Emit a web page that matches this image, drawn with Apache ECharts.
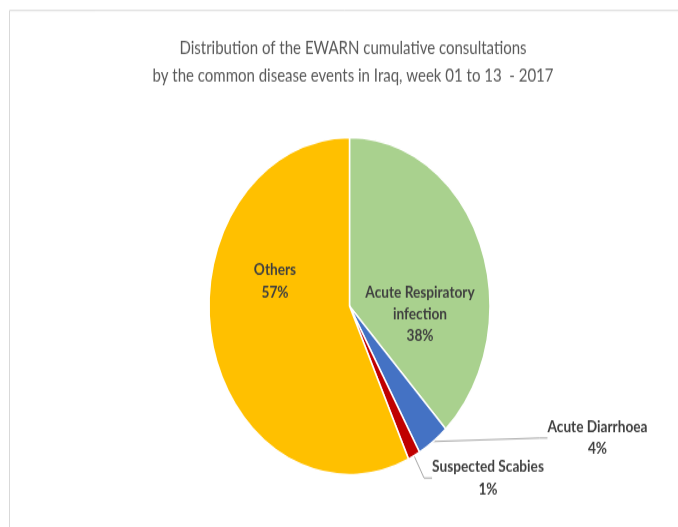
<!DOCTYPE html>
<html>
<head>
<meta charset="utf-8">
<script src="https://cdn.jsdelivr.net/npm/echarts@6/dist/echarts.min.js"></script>
<style>
html,body{margin:0;padding:0;background:#fff;overflow:hidden;}
#wrap{width:678px;height:527px;overflow:hidden;position:relative;}
#chart{width:678px;height:439px;transform-origin:0 0;transform:scaleY(1.200456);}
</style>
</head>
<body>
<div id="wrap"><div id="chart"></div></div>
<script>
// ---- data ----
const titleLines = ['Distribution of the EWARN cumulative consultations', 'by the common disease events in Iraq, week 01 to 13  - 2017'];
const categories = ['Acute Respiratory\ninfection', 'Acute Diarrhoea', 'Suspected Scabies', 'Others'];
const values = [38.0, 3.7, 1.4, 56.9];
const colors = ['#A9D18E', '#4472C4', '#C00000', '#FFC000'];

// ---- layout (reference pixel coords; the picture is stretched vertically) ----
const S = 527 / 439;
const FONT = 'Lato, "Open Sans", sans-serif';
// label centre x, text-block centre y, leader attach y (outer labels only)
const labelSpots = [
  {x: 420, y: 314, attach: null},
  {x: 597.5, y: 445, attach: 438},
  {x: 488, y: 487.5, attach: 478},
  {x: 275, y: 281, attach: null}
];

const chart = echarts.init(document.getElementById('chart'), null, {renderer: 'canvas', width: 678, height: 439});

chart.setOption({
  animation: false,
  backgroundColor: '#ffffff',
  title: {
    text: titleLines.join('\n'),
    left: 348,
    textAlign: 'center',
    top: 28 / S,
    textStyle: {fontFamily: FONT, fontSize: 15, fontWeight: 'normal', color: '#595959', lineHeight: 28 / S}
  },
  graphic: [{
    type: 'rect',
    shape: {x: 9.5, y: 10.5 / S, width: 700, height: 560},
    style: {fill: 'none', stroke: '#D9D9D9', lineWidth: 1},
    silent: true
  }],
  series: [{
    type: 'pie',
    center: [349.5, 306 / S],
    radius: 140.5,
    startAngle: 90,
    clockwise: true,
    avoidLabelOverlap: false,
    itemStyle: {borderColor: '#ffffff', borderWidth: 1.5},
    label: {
      fontFamily: FONT, fontSize: 13.7, fontWeight: 'bold', color: '#404040', lineHeight: 22 / S,
      formatter: p => p.name + '\n' + Math.round(p.percent) + '%'
    },
    labelLine: {lineStyle: {color: '#A6A6A6', width: 1}, length: 10, length2: 8},
    labelLayout: function (params) {
      const spot = labelSpots[params.dataIndex];
      const yy = spot.attach === null ? spot.y : spot.attach;
      return {x: spot.x, y: yy / S, align: 'center', verticalAlign: 'middle'};
    },
    data: categories.map((c, i) => {
      const spot = labelSpots[i];
      const outer = spot.attach !== null;
      return {
        name: c,
        value: values[i],
        itemStyle: {color: colors[i]},
        label: outer
          ? {position: 'outside', padding: [2 * (spot.y - spot.attach) / S, 0, 0, 0]}
          : {position: 'inside'},
        labelLine: {show: outer}
      };
    })
  }]
});
</script>
</body>
</html>
